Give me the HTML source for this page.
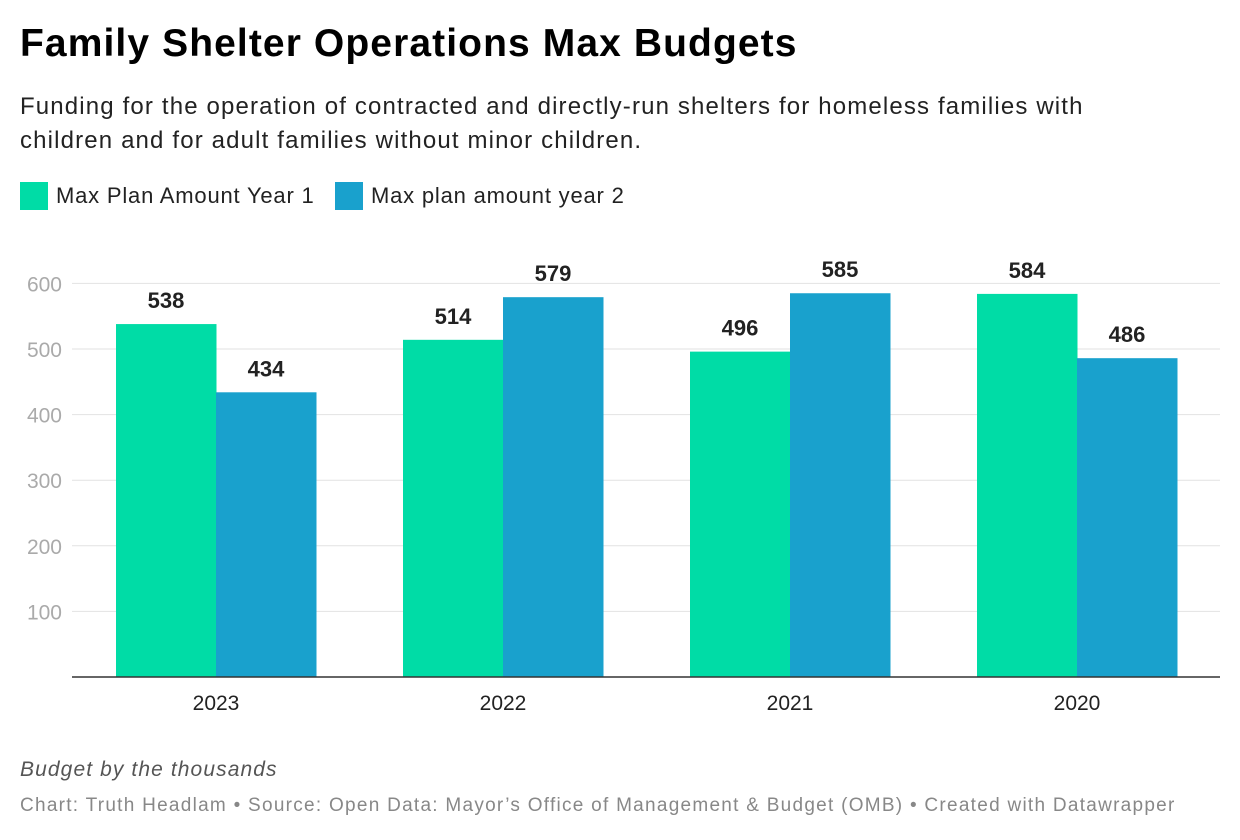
<!DOCTYPE html>
<html><head><meta charset="utf-8"><style>
body{margin:0;background:#fff;width:1240px;height:840px;overflow:hidden;font-family:"Liberation Sans",sans-serif;}
.t{position:absolute;white-space:nowrap}
</style></head><body>
<div class="t" style="left:20px;top:22px;font-size:39px;font-weight:bold;color:#000;letter-spacing:1.1px">Family Shelter Operations Max Budgets</div>
<div class="t" style="left:20px;top:90px;font-size:24px;line-height:34px;color:#222;white-space:normal;width:1140px;letter-spacing:1.15px">Funding for the operation of contracted and directly-run shelters for homeless families with children and for adult families without minor children.</div>
<div>
<div style="position:absolute;left:20px;top:182px;width:28px;height:28px;background:#00dca6"></div>
<div class="t" style="left:56px;top:183px;font-size:22px;color:#222;letter-spacing:0.8px">Max Plan Amount Year 1</div>
<div style="position:absolute;left:335px;top:182px;width:28px;height:28px;background:#19a1cd"></div>
<div class="t" style="left:371px;top:183px;font-size:22px;color:#222;letter-spacing:0.8px">Max plan amount year 2</div>
</div>
<svg id="chart" width="1240" height="840" style="position:absolute;left:0;top:0"></svg>
<div class="t" style="left:20px;top:758px;font-size:21px;font-style:italic;color:#555;letter-spacing:1.1px">Budget by the thousands</div>
<div class="t" style="left:20px;top:795px;font-size:19px;color:#888;letter-spacing:1.27px">Chart: Truth Headlam • Source: Open Data: Mayor’s Office of Management &amp; Budget (OMB) • Created with Datawrapper</div>
<script>
const categories=["2023","2022","2021","2020"];
const year1=[538,514,496,584];
const year2=[434,579,585,486];
const ticks=[100,200,300,400,500,600];
const svg=document.getElementById('chart');
const NS='http://www.w3.org/2000/svg';
const y0=677, k=0.656;
const yS=v=>y0-v*k;
const xC=i=>216+i*287;
function el(t,a,txt){const e=document.createElementNS(NS,t);for(const q in a)e.setAttribute(q,a[q]);if(txt!=null)e.textContent=txt;svg.appendChild(e);return e;}
ticks.forEach(t=>{
 const g=el('line',{x1:72,x2:1220,y1:yS(t),y2:yS(t),stroke:'#e2e2e2','stroke-width':1});
 
 
 const l=el('text',{x:62,y:yS(t)+8,'text-anchor':'end','font-size':21,fill:'#aaa','font-family':'Liberation Sans'},t);
 
 
});
categories.forEach((c,i)=>{
 [[year1[i],-100,'#00dca6'],[year2[i],0,'#19a1cd']].forEach(([v,dx,col],j)=>{
  const r=el('rect',{x:xC(i)+dx,y:yS(v),width:100.5,height:v*k,fill:col});
  
  
  const t=el('text',{x:xC(i)+dx+50,y:yS(v)-16,'text-anchor':'middle','font-size':22,'font-weight':'bold',fill:'#222','font-family':'Liberation Sans'},v);
  
  
 });
 const lb=el('text',{x:xC(i),y:710,'text-anchor':'middle','font-size':21,fill:'#222','font-family':'Liberation Sans'},c);
 
 
});
const ax=el('line',{x1:72,x2:1220,y1:y0,y2:y0,stroke:'#333','stroke-width':1.5});


</script>
</body></html>
